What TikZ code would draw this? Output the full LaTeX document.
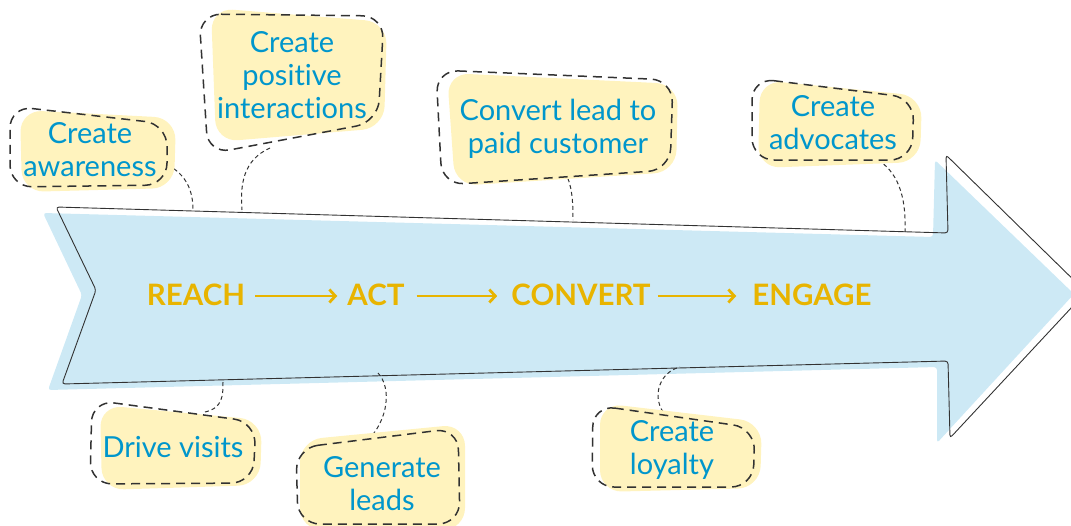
\documentclass[tikz,border=0pt]{standalone}
\usepackage{fontspec}
\setmainfont{Lato}[Ligatures={NoCommon}]
\usetikzlibrary{arrows.meta}
\definecolor{arrowblue}{RGB}{205,233,245}
\definecolor{blobyellow}{RGB}{255,243,190}
\definecolor{txtblue}{RGB}{0,150,204}
\definecolor{gold}{RGB}{232,180,0}
\definecolor{outl}{RGB}{50,50,50}
\tikzset{
  blobfill/.style={fill=blobyellow, draw=none, rounded corners=22pt},
  blobline/.style={draw=outl, line width=1.5pt, dash pattern=on 9pt off 6pt, rounded corners=22pt},
  linkline/.style={draw=outl, line width=1pt, dash pattern=on 4pt off 3pt},
  blobtext/.style={text=txtblue, align=center, inner sep=0pt, font=\fontsize{29}{33}\selectfont},
  stagetext/.style={text=gold, inner sep=0pt, anchor=base, font=\fontsize{29.5}{30}\selectfont\bfseries},
  stagearrow/.style={draw=gold, line width=2.8pt, -{Straight Barb[length=6pt,width=13pt,line width=2.8pt]}}
}
\begin{document}
\begin{tikzpicture}[x=1pt,y=-1pt]
\useasboundingbox (0,0) rectangle (1071,525);
% big arrow
\fill[arrowblue, rounded corners=3pt] (43,213) -- (933,237) -- (935,160) -- (1074,294) -- (937,443) -- (937,367) -- (48,390) -- (82,295) -- cycle;
\draw[outl, line width=0.9pt, rounded corners=3pt] (56,207) -- (948,233) -- (946,155) -- (1086,292) -- (950,438) -- (948,361) -- (62,384) -- (96,290) -- cycle;
% connector ends on the arrow
\coordinate (e1) at (193,210);
\coordinate (e2) at (242,210);
\coordinate (e3) at (573,220);
\coordinate (e4) at (905,232);
\coordinate (e5) at (223,382);
\coordinate (e6) at (378,373);
\coordinate (e7) at (680,367);
% blob start points
\coordinate (s1) at (168,165);
\coordinate (s2) at (270,148);
\coordinate (s3) at (565,172);
\coordinate (s4) at (878,160);
\coordinate (s5) at (205,412);
\coordinate (s6) at (368,440);
\coordinate (s7) at (663,412);
% connectors
\draw[linkline] (s1) .. controls (186,175) and (193,190) .. (e1);
\draw[linkline] (s2) .. controls (243,160) and (240,185) .. (e2);
\draw[linkline] (s3) .. controls (572,185) and (573,200) .. (e3);
\draw[linkline] (s4) .. controls (902,175) and (906,205) .. (e4);
\draw[linkline] (s5) .. controls (223,408) and (223,395) .. (e5);
\draw[linkline] (s6) .. controls (388,420) and (392,388) .. (e6);
\draw[linkline] (s7) .. controls (652,395) and (660,372) .. (e7);
% blobs
\fill[blobfill] (20,110) -- (176,118) -- (174,188) -- (22,192) -- cycle;
\draw[blobline] (10,106) -- (167,124) -- (167,185) -- (10,187) -- cycle;
\fill[blobfill] (211,8) -- (387,22) -- (384,128) -- (216,142) -- cycle;
\draw[blobline] (199,14) -- (384,16) -- (378,122) -- (208,154) -- cycle;
\fill[blobfill] (447,73) -- (678,84) -- (676,172) -- (455,186) -- cycle;
\draw[blobline] (436,70) -- (673,80) -- (670,170) -- (442,185) -- cycle;
\fill[blobfill] (760,80) -- (922,96) -- (920,162) -- (758,168) -- cycle;
\draw[blobline] (752,78) -- (914,98) -- (912,160) -- (752,160) -- cycle;
\fill[blobfill] (100,405) -- (262,420) -- (260,485) -- (102,490) -- cycle;
\draw[blobline] (92,400) -- (256,422) -- (253,483) -- (90,484) -- cycle;
\fill[blobfill] (300,440) -- (465,424) -- (465,530) -- (300,530) -- cycle;
\draw[blobline] (296,448) -- (458,428) -- (460,524) -- (298,524) -- cycle;
\fill[blobfill] (600,403) -- (762,422) -- (760,488) -- (600,492) -- cycle;
\draw[blobline] (593,405) -- (755,428) -- (753,487) -- (592,487) -- cycle;
% blob texts
\node[blobtext] (t1) at (90,150) {Create\\awareness};
\node[blobtext] (t2) at (292,75) {Create\\positive\\interactions};
\node[blobtext] (t3) at (558,129) {Convert lead to\\paid customer};
\node[blobtext] (t4) at (833,123) {Create\\advocates};
\node[blobtext] (t5) at (173,447) {Drive visits};
\node[blobtext] (t6) at (382,484) {Generate\\leads};
\node[blobtext] (t7) at (672,450) {Create\\loyalty};
% stages
\node[stagetext] (reach) at (196,305) {REACH};
\node[stagetext] (act) at (376,305) {ACT};
\node[stagetext] (convert) at (581,305) {CONVERT};
\node[stagetext] (engage) at (812,305) {ENGAGE};
\draw[stagearrow] ([xshift=10pt]reach.east |- 0,296) -- ([xshift=-10pt]act.west |- 0,296);
\draw[stagearrow] ([xshift=12pt]act.east |- 0,296) -- ([xshift=-14pt]convert.west |- 0,296);
\draw[stagearrow] ([xshift=7pt]convert.east |- 0,296) -- ([xshift=-16pt]engage.west |- 0,296);
\end{tikzpicture}
\end{document}
